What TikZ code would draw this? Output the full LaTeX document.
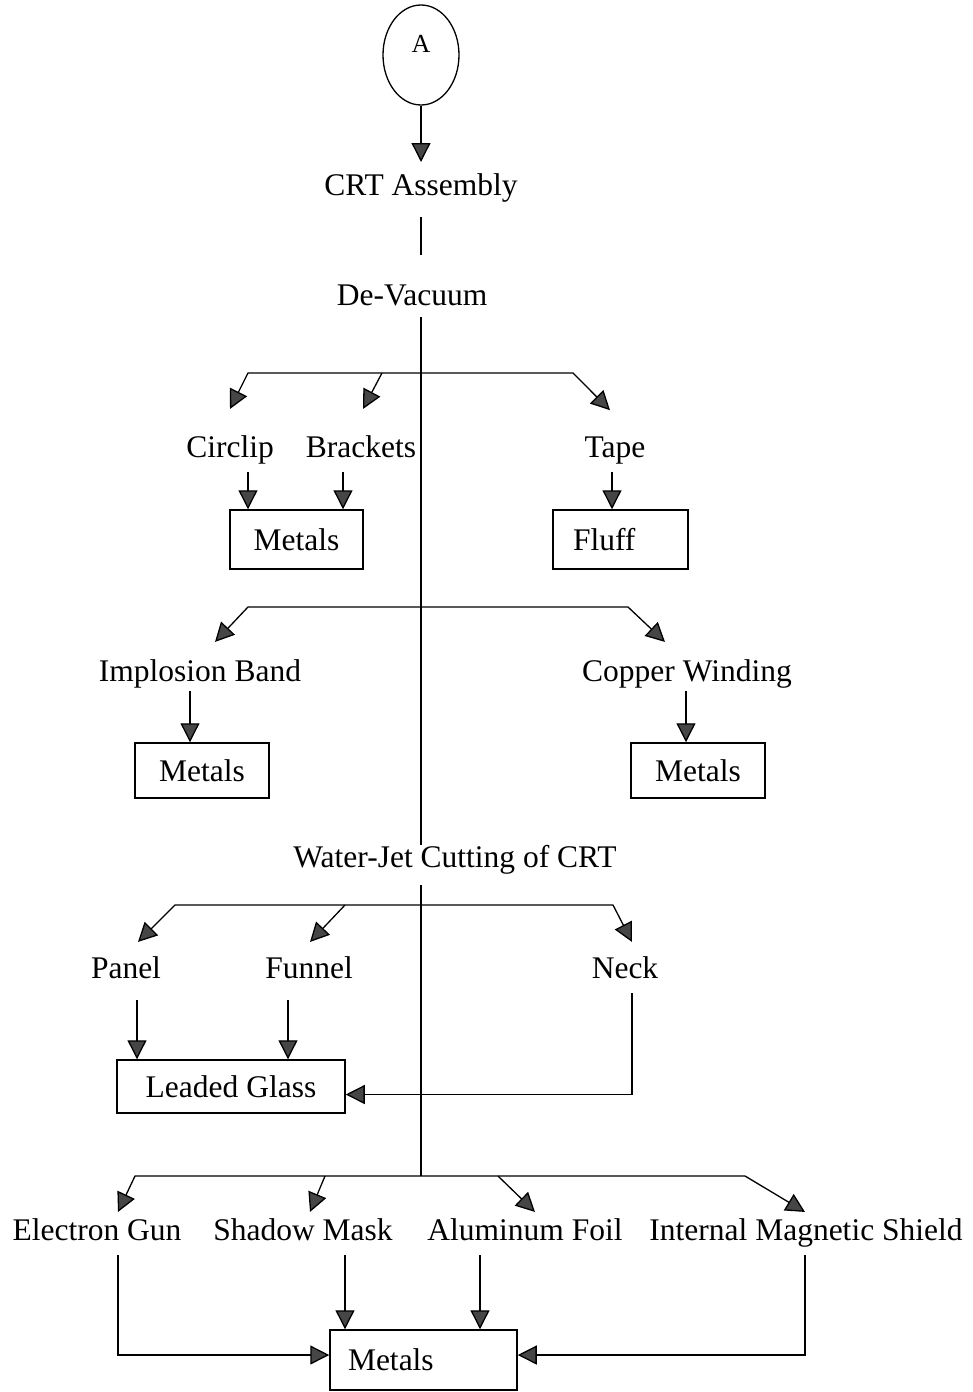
\documentclass[tikz,border=0pt]{standalone}
\usepackage{fontspec}
\setmainfont{Liberation Serif}
\usetikzlibrary{arrows.meta,shapes.geometric,calc}
\begin{document}
\begin{tikzpicture}[x=1pt,y=-1pt,
  lbl/.style={font=\fontsize{31.5}{37}\selectfont, anchor=base, inner sep=0pt},
  box/.style={draw, line width=1.5pt, font=\fontsize{31.5}{37}\selectfont, inner ysep=0pt, inner xsep=0pt, anchor=center},
  ln/.style={line width=1.3pt},
  arr/.style={ln, -{Triangle[length=19pt,width=19pt,fill=gray!55!black]}},
]
\useasboundingbox[fill=white] (0,0) rectangle (972,1392);

% nodes
\node[ellipse, draw, line width=1.3pt, minimum width=76pt, minimum height=100pt, inner sep=0pt,
      font=\fontsize{26}{30}\selectfont, text height=17pt, text depth=23pt] (A) at (421,55) {A};
\node[lbl] (crt) at (421,195) {CRT Assembly};
\node[lbl] (devac) at (412,305) {De-Vacuum};

\node[lbl] (circlip) at (230,457) {Circlip};
\node[lbl] (brackets) at (361,457) {Brackets};
\node[lbl] (tape) at (615,457) {Tape};
\node[box, minimum width=133pt, minimum height=59pt] (metA) at (296.5,539.5) {Metals};
\node[box, minimum width=135pt, minimum height=59pt, text width=95pt, align=left, inner xsep=20pt] (fluff) at (620.5,539.5) {Fluff};

\node[lbl] (implosion) at (200,681) {Implosion Band};
\node[lbl] (copper) at (687,681) {Copper Winding};
\node[box, minimum width=134pt, minimum height=55pt] (metB) at (202,770.5) {Metals};
\node[box, minimum width=134pt, minimum height=55pt] (metC) at (698,770.5) {Metals};

\node[lbl] (wj) at (455,867) {Water-Jet Cutting of CRT};

\node[lbl] (panel) at (126,978) {Panel};
\node[lbl] (funnel) at (309,978) {Funnel};
\node[lbl] (neck) at (625,978) {Neck};
\node[box, minimum width=228pt, minimum height=53pt] (glass) at (231,1086.5) {Leaded Glass};

\node[lbl] (egun) at (97,1240) {Electron Gun};
\node[lbl] (smask) at (303,1240) {Shadow Mask};
\node[lbl] (afoil) at (525,1240) {Aluminum Foil};
\node[lbl] (ims) at (806,1240) {Internal Magnetic Shield};
\node[box, minimum width=187pt, minimum height=60pt, text width=151pt, align=left, inner xsep=18pt] (metD) at (423.5,1360) {Metals};

% junctions
\coordinate (b1) at (421,373);
\coordinate (b2) at (421,607);
\coordinate (b3) at (421,905);
\coordinate (b4) at (421,1176);

% top
\draw[arr] (A.south) -- ([yshift=33pt]crt.base);
\draw[ln] ([yshift=-22pt]crt.base) -- ([xshift=9pt,yshift=50pt]devac.base);
\draw[ln] ([xshift=9pt,yshift=-12pt]devac.base) -- (b1 |- wj.north);
\draw[ln] (b3) ++(0,-20) -- (b4);

% branch 1
\draw[arr] (b1) -- ++(-173,0) -- ([yshift=26pt]circlip.north);
\draw[arr] (b1) ++(-39,0) -- ([xshift=2pt,yshift=26pt]brackets.north);
\draw[arr] (b1) -- ++(152,0) -- ([xshift=-5pt,yshift=26pt]tape.north);
\draw[arr] ($(circlip.base)+(18,15)$) coordinate (c1) -- (c1 |- metA.north);
\draw[arr] ($(brackets.base)+(-18,15)$) coordinate (c2) -- (c2 |- metA.north);
\draw[arr] ($(tape.base)+(-3,15)$) coordinate (c3) -- (c3 |- fluff.north);

% branch 2
\draw[arr] (b2) -- ++(-173,0) -- ([xshift=15pt,yshift=17pt]implosion.north);
\draw[arr] (b2) -- ++(207,0) -- ([xshift=-22pt,yshift=17pt]copper.north);
\draw[arr] ($(implosion.base)+(-10,10)$) coordinate (c4) -- (c4 |- metB.north);
\draw[arr] ($(copper.base)+(-1,10)$) coordinate (c5) -- (c5 |- metC.north);

% branch 3
\draw[arr] (b3) -- ++(-246,0) -- ([xshift=12pt,yshift=14pt]panel.north);
\draw[arr] (b3) ++(-76,0) -- ([xshift=1pt,yshift=14pt]funnel.north);
\draw[arr] (b3) -- ++(192,0) -- ([xshift=7pt,yshift=14pt]neck.north);
\draw[arr] ($(panel.base)+(11,22)$) coordinate (c6) -- (c6 |- glass.north);
\draw[arr] ($(funnel.base)+(-21,22)$) coordinate (c7) -- (c7 |- glass.north);
\draw[arr] ($(neck.base)+(7,15)$) |- ($(glass.east)+(0,8)$);

% branch 4
\draw[arr] (b4) -- ++(-286,0) -- ([xshift=21pt,yshift=6pt]egun.north);
\draw[arr] (b4) ++(-96,0) -- ([xshift=7pt,yshift=6pt]smask.north);
\draw[arr] (b4) ++(77,0) -- ([xshift=10pt,yshift=6pt]afoil.north);
\draw[arr] (b4) -- ++(324,0) -- ([xshift=-1pt,yshift=6pt]ims.north);
\draw[arr] ($(egun.base)+(21,15)$) |- ($(metD.west)+(0,-5)$);
\draw[arr] ($(smask.base)+(42,15)$) coordinate (c8) -- (c8 |- metD.north);
\draw[arr] ($(afoil.base)+(-45,15)$) coordinate (c9) -- (c9 |- metD.north);
\draw[arr] ($(ims.base)+(-1,15)$) |- ($(metD.east)+(0,-5)$);
\end{tikzpicture}
\end{document}
